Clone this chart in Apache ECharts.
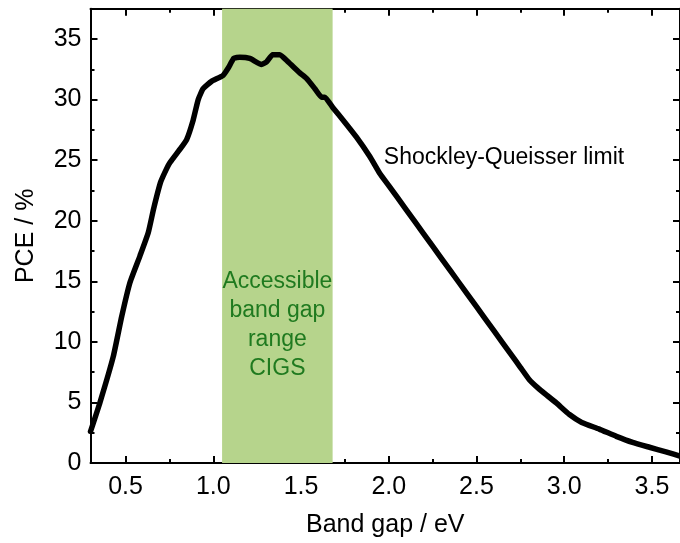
<!DOCTYPE html>
<html>
<head>
<meta charset="utf-8">
<script src="https://cdn.jsdelivr.net/npm/echarts@6/dist/echarts.min.js"></script>
<style>
  html, body { margin: 0; padding: 0; background: #fff; }
  #chart { width: 680px; height: 543px; }
</style>
</head>
<body>
<div id="chart"></div>
<script>
// ---- data ----
const bandGap = [0.30, 0.354, 0.43, 0.478, 0.525, 0.582, 0.629, 0.66, 0.70, 0.734, 0.753, 0.81, 0.848, 0.885, 0.914, 0.942, 0.99, 1.056, 1.085, 1.117, 1.151, 1.208, 1.275, 1.303, 1.338, 1.379, 1.427, 1.493, 1.531, 1.579, 1.617, 1.635, 1.683, 1.74, 1.816, 1.892, 1.949, 2.0, 2.1, 2.2, 2.3, 2.4, 2.5, 2.6, 2.7, 2.75, 2.8, 2.85, 2.9, 2.955, 3.03, 3.1, 3.2, 3.297, 3.39, 3.486, 3.58, 3.66];
const pce = [2.6, 5.0, 8.8, 12.1, 14.9, 17.1, 19.0, 21.0, 23.2, 24.3, 24.8, 25.9, 26.7, 28.3, 30.0, 30.9, 31.5, 32.0, 32.6, 33.4, 33.5, 33.4, 32.9, 33.1, 33.7, 33.7, 33.1, 32.2, 31.75, 30.9, 30.2, 30.2, 29.3, 28.3, 26.9, 25.3, 23.9, 22.9, 20.9, 18.9, 16.9, 14.9, 12.9, 10.9, 8.9, 7.9, 6.9, 6.2, 5.6, 4.96, 4.0, 3.35, 2.8, 2.2, 1.7, 1.3, 0.92, 0.56];
const bandRange = [1.05, 1.68];
const xMajorTicks = [0.5, 1.0, 1.5, 2.0, 2.5, 3.0, 3.5];
const xMinorTicks = [0.75, 1.25, 1.75, 2.25, 2.75, 3.25];
const yMajorTicks = [0, 5, 10, 15, 20, 25, 30, 35];
const yMinorTicks = [2.5, 7.5, 12.5, 17.5, 22.5, 27.5, 32.5];
const xRange = [0.3, 3.66];
const yRange = [0, 37.5];
const curveLabel = 'Shockley-Queisser limit';
const curveLabelAt = [1.972, 25.2];
const bandLabel = 'Accessible\nband gap\nrange\nCIGS';
const bandLabelAt = [1.365, 11.4];

// ---- chart ----
const FONT = "'Liberation Sans', Arial, sans-serif";
const chart = echarts.init(document.getElementById('chart'), null, { renderer: 'canvas' });
const axisLineStyle = { color: '#000', width: 2 };

function xAxisDef(position, ticks, len, showLine, withLabels) {
  return {
    type: 'value', position: position, min: xRange[0], max: xRange[1],
    axisLine: { show: showLine, onZero: false, lineStyle: axisLineStyle },
    axisTick: { show: true, inside: true, length: len, customValues: ticks, lineStyle: { color: '#000', width: 2 } },
    axisLabel: withLabels ? {
      show: true, customValues: ticks, margin: 12, color: '#000', fontSize: 25, fontFamily: FONT,
      formatter: v => v.toFixed(1)
    } : { show: false },
    splitLine: { show: false },
    name: withLabels ? 'Band gap / eV' : '',
    nameLocation: 'middle', nameGap: 50,
    nameTextStyle: { color: '#000', fontSize: 25, fontFamily: FONT }
  };
}
function yAxisDef(position, ticks, len, showLine, withLabels) {
  return {
    type: 'value', position: position, min: yRange[0], max: yRange[1],
    axisLine: { show: showLine, onZero: false, lineStyle: axisLineStyle },
    axisTick: { show: true, inside: true, length: len, customValues: ticks, lineStyle: { color: '#000', width: 2 } },
    axisLabel: withLabels ? {
      show: true, customValues: ticks, margin: 9, color: '#000', fontSize: 25, fontFamily: FONT
    } : { show: false },
    splitLine: { show: false },
    name: withLabels ? 'PCE / %' : '',
    nameLocation: 'middle', nameGap: 52,
    nameTextStyle: { color: '#000', fontSize: 25, fontFamily: FONT }
  };
}

const option = {
  animation: false,
  backgroundColor: '#fff',
  grid: { left: 90.5, right: 0, top: 8.7, bottom: 79.5, containLabel: false },
  xAxis: [
    xAxisDef('bottom', xMajorTicks, 7, true, true),
    xAxisDef('bottom', xMinorTicks, 4, false, false),
    xAxisDef('top', xMajorTicks, 7, true, false),
    xAxisDef('top', xMinorTicks, 4, false, false)
  ],
  yAxis: [
    yAxisDef('left', yMajorTicks, 7, true, true),
    yAxisDef('left', yMinorTicks, 4, false, false),
    yAxisDef('right', yMajorTicks, 7, true, false),
    yAxisDef('right', yMinorTicks, 4, false, false)
  ],
  series: [
    {
      type: 'line', data: [], z: 1, silent: true,
      markArea: {
        silent: true,
        itemStyle: { color: '#b6d48c', opacity: 1 },
        data: [[{ xAxis: bandRange[0] }, { xAxis: bandRange[1] }]]
      }
    },
    {
      type: 'line', z: 5,
      data: bandGap.map((x, i) => [x, pce[i]]),
      showSymbol: false, symbol: 'none', smooth: 0.15,
      lineStyle: { color: '#000', width: 5.5, join: 'round', cap: 'round' },
      clip: true
    }
  ]
};
chart.setOption(option);

const p1 = chart.convertToPixel({ xAxisIndex: 0, yAxisIndex: 0 }, curveLabelAt);
const p2 = chart.convertToPixel({ xAxisIndex: 0, yAxisIndex: 0 }, bandLabelAt);
chart.setOption({
  graphic: [
    {
      type: 'text', x: p1[0], y: p1[1], z: 10,
      style: { text: curveLabel, fill: '#000', font: '23px ' + FONT, textAlign: 'left', textVerticalAlign: 'middle' }
    },
    {
      type: 'text', x: p2[0], y: p2[1], z: 10,
      style: { text: bandLabel, fill: '#1f7a1f', font: '23px ' + FONT, textAlign: 'center', textVerticalAlign: 'middle', lineHeight: 29 }
    }
  ]
});
</script>
</body>
</html>
